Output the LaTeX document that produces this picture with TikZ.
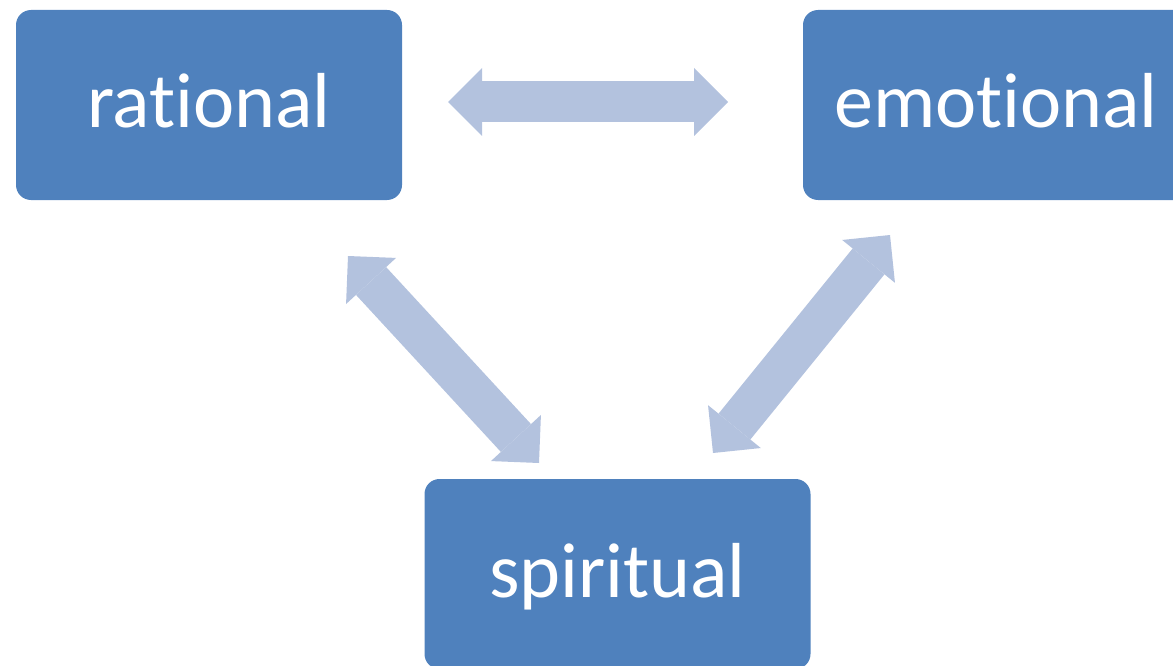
\documentclass[tikz,border=0pt]{standalone}
\usepackage{fontspec}
\setmainfont{Carlito}
\usetikzlibrary{arrows.meta,positioning}
\definecolor{boxblue}{HTML}{4F81BD}
\definecolor{arrowblue}{HTML}{B3C2DE}
% keeps t and i apart
\newcommand{\tisplit}{t\kern0pt i}

\begin{document}
\begin{tikzpicture}[x=1pt,y=-1pt,
  mind/.style={rectangle,rounded corners=15pt,fill=boxblue,text=white,
    minimum width=386pt,minimum height=190pt,inner sep=0pt,
    font=\fontsize{78pt}{90pt}\selectfont,text height=60pt,text depth=14pt},
  link/.style={arrowblue,line width=41pt,
    {Triangle[length=34pt,width=68pt,line width=0pt]}-{Triangle[length=34pt,width=68pt,line width=0pt]}}]
  \useasboundingbox (0,0) rectangle (1173,666);
% Boxes
  \node[mind] (rational) at (209,105) {ra\tisplit onal};
  \node[mind] (emotional) at (996,105) {emo\tisplit onal};
  \node[mind] (spiritual) at (617.5,574) {spiritual};
% Arrow ends
  \coordinate (re1) at (448,102);
  \coordinate (re2) at (728,102);
  \coordinate (rs1) at (348,256);
  \coordinate (rs2) at (539,463);
  \coordinate (es1) at (890,235);
  \coordinate (es2) at (713,453);
% Arrows
  \draw[link] (re1) -- (re2);
  \draw[link] (rs1) -- (rs2);
  \draw[link] (es1) -- (es2);
\end{tikzpicture}
\end{document}
